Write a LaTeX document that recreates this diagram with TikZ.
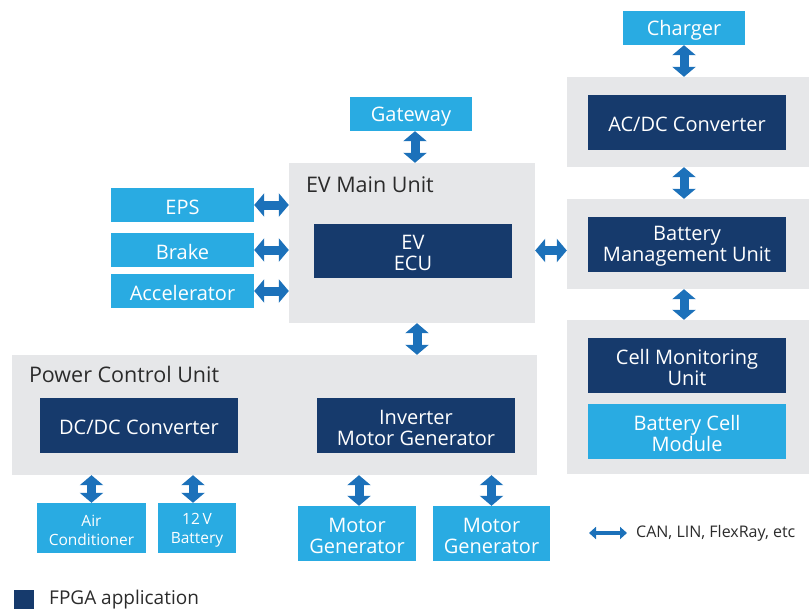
\documentclass[tikz,border=0pt]{standalone}
\usepackage{fontspec}
\setmainfont{Open Sans}
\usetikzlibrary{arrows.meta}

\definecolor{lightblue}{HTML}{29ABE2}
\definecolor{fpgablue}{HTML}{163A6C}
\definecolor{panelgray}{HTML}{E6E7E9}
\definecolor{arrowblue}{HTML}{1C71BA}
\definecolor{titlegray}{HTML}{2B2B2B}

\tikzset{
  wh/.style 2 args={minimum width=#1pt, minimum height=#2pt},
  boxtext/.style={text=white, align=center, inner sep=0pt, yshift=-2.2pt, font=\fontsize{20}{21}\selectfont},
  lightbox/.style={fill=lightblue, inner sep=0pt, label={[boxtext]center:{#1}}},
  fpgabox/.style={fill=fpgablue, inner sep=0pt, label={[boxtext]center:{#1}}},
  smallbox/.style={fill=lightblue, inner sep=0pt, label={[boxtext, font=\fontsize{15.5}{19}\selectfont]center:{#1}}},
  panel/.style={fill=panelgray, inner sep=0pt},
  paneltitle/.style={anchor=base west, text=titlegray, inner sep=0pt, font=\fontsize{21.5}{24}\selectfont},
  link/.style={arrowblue, line width=9pt, {Triangle[width=23pt,length=10pt]}-{Triangle[width=23pt,length=10pt]}},
  legendlink/.style={arrowblue, line width=4pt, {Triangle[width=12pt,length=7pt]}-{Triangle[width=12pt,length=7pt]}},
}

\begin{document}
\begin{tikzpicture}[x=1pt, y=-1pt]
\useasboundingbox (0,0) rectangle (809,610);

% Place nodes
% battery side
\node[lightbox={Charger}, wh={122}{34}] (charger) at (684,28) {};
\node[panel, wh={242}{90}] (acdcpanel) at (688,122) {};
\node[fpgabox={AC/DC Converter}, wh={198}{55}] (acdc) at (687,122.5) {};
\node[panel, wh={242}{90}] (bmupanel) at (688,244) {};
\node[fpgabox={Battery\\Management Unit}, wh={198}{55}] (bmu) at (687,244.5) {};
\node[panel, wh={242}{154}] (cellpanel) at (688,397) {};
\node[fpgabox={Cell Monitoring\\Unit}, wh={198}{55}] (cmu) at (687,365.5) {};
\node[lightbox={Battery Cell\\Module}, wh={198}{55}] (bcm) at (687,431.5) {};

% main unit
\node[lightbox={Gateway}, wh={122}{34}] (gateway) at (411,114) {};
\node[panel, wh={246}{160}] (evpanel) at (412,243) {};
\node[paneltitle] (evtitle) at ([xshift=17pt, yshift=-30pt]evpanel.north west) {EV Main Unit};
\node[fpgabox={EV\\ECU}, wh={198}{54}] (ecu) at (413,250.5) {};
\node[lightbox={EPS}, wh={143}{34}] (eps) at (182.5,205) {};
\node[lightbox={Brake}, wh={143}{34}] (brake) at (182.5,250) {};
\node[lightbox={Accelerator}, wh={143}{34}] (accel) at (182.5,291) {};

% power control unit
\node[panel, wh={525}{120}] (pcupanel) at (274.5,415) {};
\node[paneltitle] (pcutitle) at ([xshift=17pt, yshift=-28pt]pcupanel.north west) {Power Control Unit};
\node[fpgabox={DC/DC Converter}, wh={198}{55}] (dcdc) at (139,425.5) {};
\node[fpgabox={Inverter\\Motor Generator}, wh={198}{55}] (inverter) at (416,425.5) {};
\node[smallbox={Air\\Conditioner}, wh={109}{50}] (aircon) at (91.5,528) {};
\node[smallbox={12\,V\\Battery}, wh={78}{50}] (battery) at (197,528) {};
\node[lightbox={Motor\\Generator}, wh={118}{55}] (motora) at (357,533.5) {};
\node[lightbox={Motor\\Generator}, wh={117}{55}] (motorb) at (491.5,533.5) {};

% links
\draw[link] (charger.south) -- (charger.south |- acdcpanel.north);
\draw[link] (acdcpanel.south -| charger.south) -- (bmupanel.north -| charger.south);
\draw[link] (bmupanel.south -| charger.south) -- (cellpanel.north -| charger.south);
\draw[link] ([xshift=4pt]gateway.south) -- ([xshift=4pt]gateway.south |- evpanel.north);
\draw[link] (eps.east) -- (eps.east -| evpanel.west);
\draw[link] (brake.east) -- (brake.east -| evpanel.west);
\draw[link] (accel.east) -- (accel.east -| evpanel.west);
\draw[link] (evpanel.east |- ecu) -- (bmupanel.west |- ecu);
\draw[link] ([xshift=4pt]ecu.south |- evpanel.south) -- ([xshift=4pt]ecu.south |- pcupanel.north);
\draw[link] (aircon.north |- pcupanel.south) -- (aircon.north);
\draw[link] ([xshift=-4pt]battery.north |- pcupanel.south) -- ([xshift=-4pt]battery.north);
\draw[link] ([xshift=2pt]motora.north |- pcupanel.south) -- ([xshift=2pt]motora.north);
\draw[link] (motorb.north |- pcupanel.south) -- (motorb.north);

% legend
\coordinate (canleft) at (589,533);
\coordinate (canright) at (627,533);
\draw[legendlink] (canleft) -- (canright);
\node[anchor=west, text=titlegray, font=\fontsize{16}{18}\selectfont, inner sep=0pt] (cantext) at ([xshift=9pt]canright) {CAN, LIN, FlexRay, etc};
\node[fill=fpgablue, wh={20}{19}, inner sep=0pt] (fpgakey) at (24,599.5) {};
\node[anchor=base west, text=titlegray, font=\fontsize{19}{22}\selectfont, inner sep=0pt] (fpgatext) at (49,604.5) {FPGA application};

\end{tikzpicture}
\end{document}
